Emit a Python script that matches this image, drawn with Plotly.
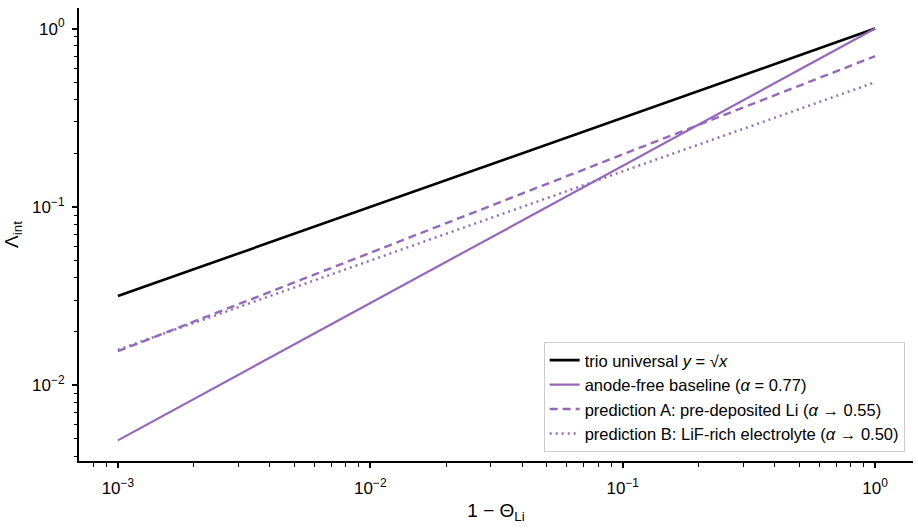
import plotly.graph_objects as go

# Data
x_vals = [1e-3, 1e-2, 1e-1, 1.0]
trio = [0.0316, 0.100, 0.316, 1.0]
baseline = [0.0049, 0.0289, 0.170, 1.0]
pred_a = [0.0155, 0.055, 0.197, 0.70]
pred_b = [0.0158, 0.050, 0.158, 0.50]

names = [
    "trio universal <i>y</i> = √<i>x</i>",
    "anode-free baseline (<i>α</i> = 0.77)",
    "prediction A: pre-deposited Li (<i>α</i> → 0.55)",
    "prediction B: LiF-rich electrolyte (<i>α</i> → 0.50)",
]

xtick_vals = [1e-3, 1e-2, 1e-1, 1.0]
xtick_text = ["10<sup>−3</sup>", "10<sup>−2</sup>", "10<sup>−1</sup>", "10<sup>0</sup>"]
ytick_vals = [1e-2, 1e-1, 1.0]
ytick_text = ["10<sup>−2</sup>", "10<sup>−1</sup>", "10<sup>0</sup>"]

purple = "#9467bd"

fig = go.Figure()
fig.add_trace(go.Scatter(x=x_vals, y=trio, mode="lines", name=names[0],
                         line=dict(color="black", width=2.6)))
fig.add_trace(go.Scatter(x=x_vals, y=baseline, mode="lines", name=names[1],
                         line=dict(color=purple, width=2.2)))
fig.add_trace(go.Scatter(x=x_vals, y=pred_a, mode="lines", name=names[2],
                         line=dict(color=purple, width=2.4, dash="8px,5px")))
fig.add_trace(go.Scatter(x=x_vals, y=pred_b, mode="lines", name=names[3],
                         line=dict(color=purple, width=2.4, dash="2px,4px")))

minor_x = [m * 10 ** e for e in range(-4, 1) for m in range(2, 10)]
minor_y = [m * 10 ** e for e in range(-3, 1) for m in range(2, 10)]

font_family = "Liberation Sans, Arial, sans-serif"

fig.update_layout(
    width=918, height=531,
    margin=dict(l=79, r=5, t=8, b=70),
    paper_bgcolor="white", plot_bgcolor="white",
    font=dict(family=font_family, size=16, color="black"),
    showlegend=True,
    legend=dict(x=0.990, y=0.02, xanchor="right", yanchor="bottom",
                bgcolor="white", bordercolor="#cccccc", borderwidth=1,
                font=dict(size=16.5), tracegroupgap=0, itemwidth=30),
    xaxis=dict(type="log", range=[-3.154, 0.15],
               showgrid=False, zeroline=False,
               showline=True, linecolor="black", linewidth=2,
               ticks="outside", ticklen=5, tickwidth=1.5, tickcolor="black",
               tickvals=xtick_vals, ticktext=xtick_text,
               tickfont=dict(size=17), ticklabelstandoff=6,
               minor=dict(tickvals=minor_x, ticks="outside", ticklen=3.5,
                          tickwidth=1.2, tickcolor="black", showgrid=False),
               title=dict(text="1 − Θ<sub>Li</sub>", font=dict(size=19), standoff=6)),
    yaxis=dict(type="log", range=[-2.4255, 0.1155],
               showgrid=False, zeroline=False,
               showline=True, linecolor="black", linewidth=2,
               ticks="outside", ticklen=5, tickwidth=1.5, tickcolor="black",
               tickvals=ytick_vals, ticktext=ytick_text,
               tickfont=dict(size=17), ticklabelstandoff=4,
               minor=dict(tickvals=minor_y, ticks="outside", ticklen=3.5,
                          tickwidth=1.2, tickcolor="black", showgrid=False),
               title=dict(text="Λ<sub>int</sub>", font=dict(size=19), standoff=8)),
)

fig.write_html("out.html")
